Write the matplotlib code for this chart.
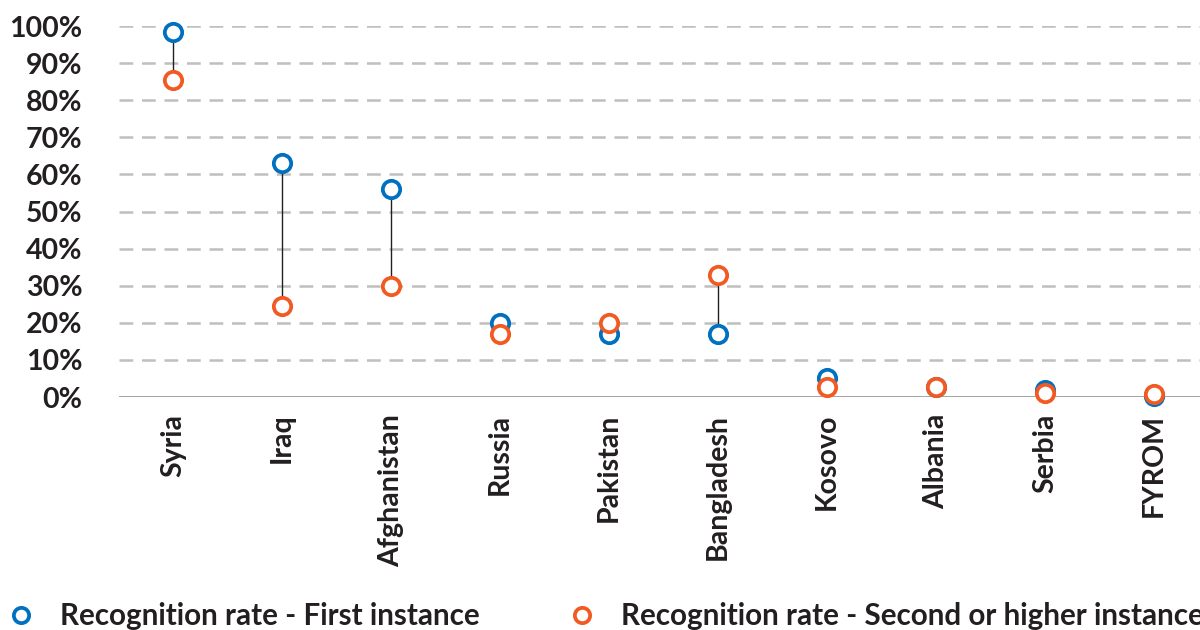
import matplotlib
matplotlib.use("Agg")
import matplotlib.pyplot as plt
from matplotlib.lines import Line2D
from matplotlib.ticker import PercentFormatter

plt.rcParams['font.family'] = ['Lato', 'DejaVu Sans']
plt.rcParams['font.weight'] = 'bold'

countries = ["Syria", "Iraq", "Afghanistan", "Russia", "Pakistan",
             "Bangladesh", "Kosovo", "Albania", "Serbia", "FYROM"]
first_instance = [98.4, 63.1, 56.1, 20.0, 17.0, 17.0, 5.1, 2.7, 1.9, 0.3]
second_instance = [85.4, 24.5, 29.9, 17.0, 20.0, 32.9, 2.7, 2.7, 1.1, 0.8]

BLUE = "#0070c0"
ORANGE = "#f15a22"
TXT = "#231f20"

fig = plt.figure(figsize=(12, 6.3), dpi=100)
ax = fig.add_axes([0.09875, 0.3698, 0.9083, 0.5889])

x = list(range(len(countries)))

# thin high-low lines between the two series
ax.vlines(x, [min(a, b) for a, b in zip(first_instance, second_instance)],
          [max(a, b) for a, b in zip(first_instance, second_instance)],
          color="#231f20", lw=1.0, zorder=2)

ax.plot(x, first_instance, ls="none", marker="o", ms=12.5, mew=2.7,
        mec=BLUE, mfc="white", zorder=3, clip_on=False,
        label="Recognition rate - First instance")
ax.plot(x, second_instance, ls="none", marker="o", ms=12.5, mew=2.7,
        mec=ORANGE, mfc="white", zorder=4, clip_on=False,
        label="Recognition rate - Second or higher instance")

ax.set_xlim(-0.5, len(countries) - 0.5)
ax.set_ylim(0, 100)
ax.set_yticks(range(0, 101, 10))
ax.yaxis.set_major_formatter(PercentFormatter(decimals=0))
ax.set_xticks(x)
ax.set_xticklabels(countries, rotation=90, fontsize=20.5, color=TXT, fontweight="bold")
for lab in ax.get_yticklabels():
    lab.set_fontsize(20.5)
    lab.set_color(TXT)
    lab.set_fontweight("bold")
ax.tick_params(axis="y", length=0, pad=26)
ax.tick_params(axis="x", length=0, pad=12)

for y in range(10, 101, 10):
    ax.axhline(y, color="#bfbfbf", lw=1.8, ls=(0, (5.5, 3.5)), zorder=1)
ax.axhline(0, color="#9d9d9d", lw=2.0, zorder=1)

for s in ax.spines.values():
    s.set_visible(False)

handles = [
    Line2D([], [], ls="none", marker="o", ms=11, mew=2.7, mec=BLUE, mfc="white"),
    Line2D([], [], ls="none", marker="o", ms=11, mew=2.7, mec=ORANGE, mfc="white"),
]
fig.legend(handles, ["Recognition rate - First instance",
                     "Recognition rate - Second or higher instance"],
           loc="center left", bbox_to_anchor=(0.005, 0.022), ncol=2, frameon=False,
           handlelength=1.0, handletextpad=0.83, columnspacing=2.94,
           borderaxespad=0, borderpad=0, prop={"size": 21.3, "weight": "bold"},
           labelcolor=TXT)

fig.savefig("out.png", dpi=100)
